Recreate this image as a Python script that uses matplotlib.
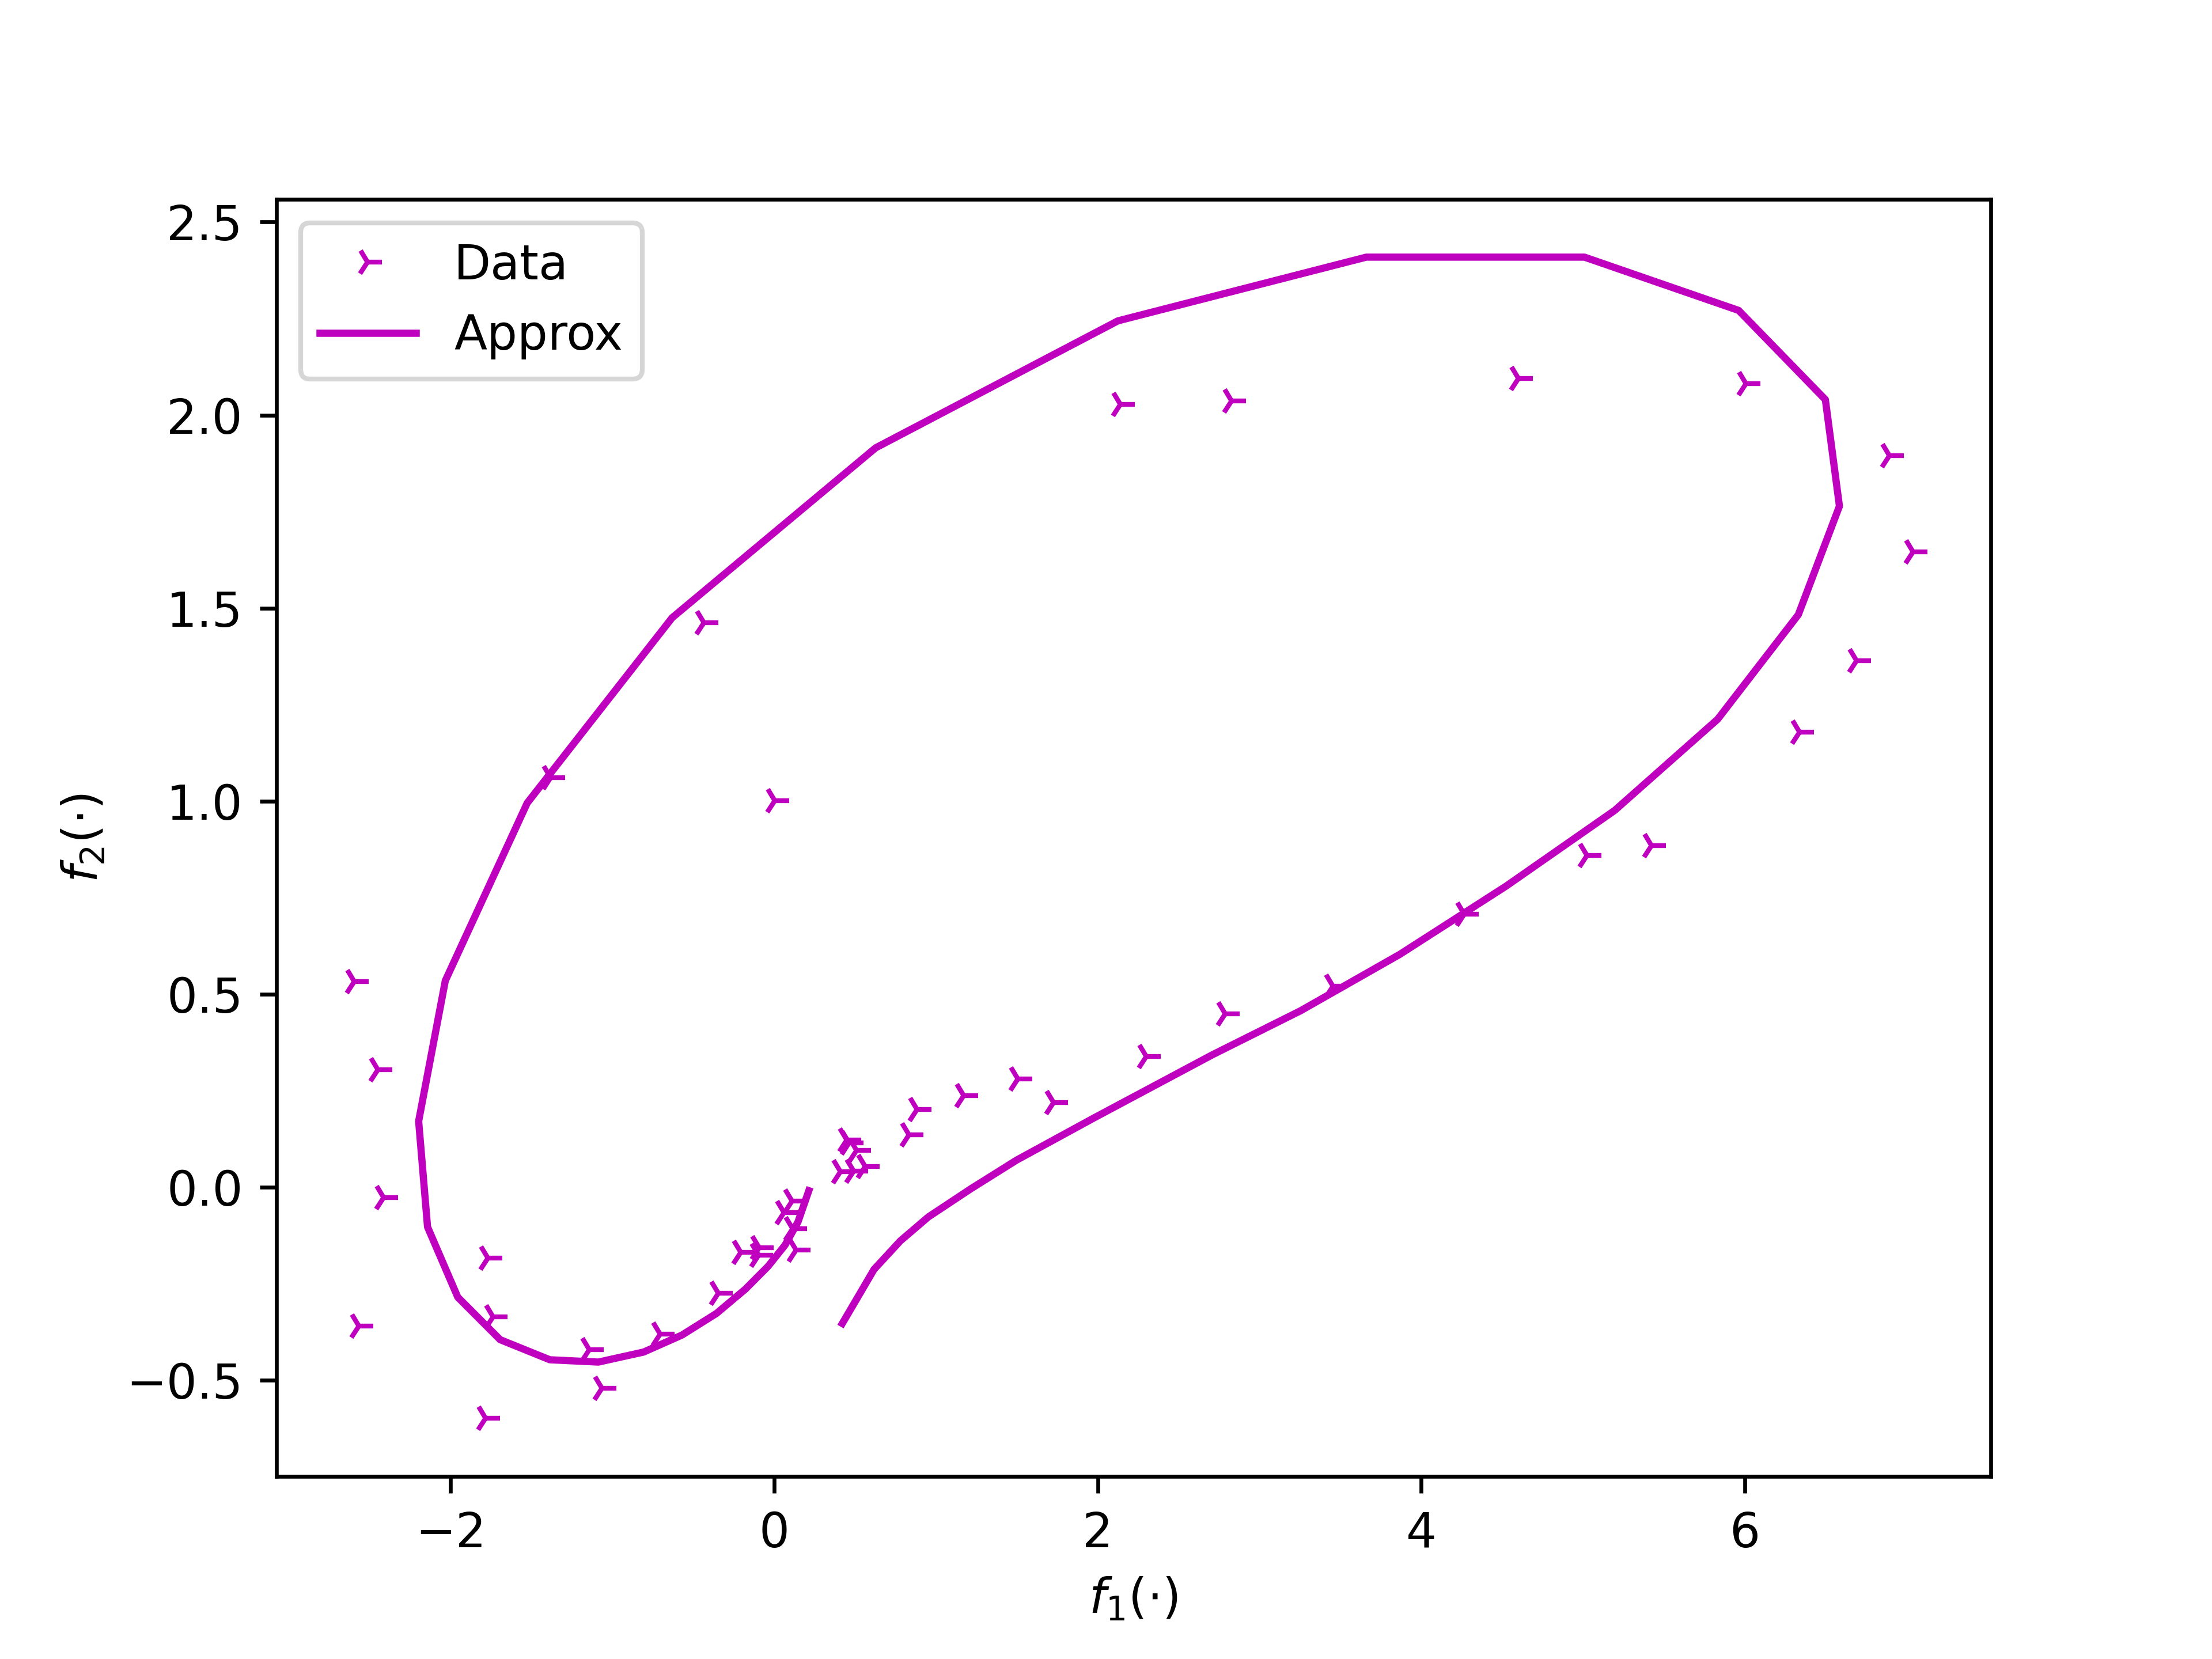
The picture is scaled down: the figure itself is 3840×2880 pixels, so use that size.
import numpy as np
import matplotlib
matplotlib.use('Agg')
import matplotlib.pyplot as plt

# Sampled points (f1, f2)
data_f1 = [-2.595, -2.450, -2.413, -2.568, -1.769, -1.739, -1.783, -1.144, -1.064,
           -0.705, -0.347, -0.207, -0.094, -0.096, 0.061, 0.111, 0.114, 0.136,
           0.408, 0.490, 0.562, 0.508, 0.462, 0.450, 0.834, 0.882, 1.171, 1.507,
           1.728, 2.301, 2.789, 3.454, 4.265, 5.023, 5.423, 6.340, 6.691, 7.039,
           6.893, 6.008, 4.600, 2.829, 2.139, -0.433, -1.381, 0.003]
data_f2 = [0.532, 0.304, -0.027, -0.360, -0.183, -0.336, -0.599, -0.421, -0.521,
           -0.381, -0.275, -0.169, -0.157, -0.176, -0.066, -0.036, -0.107, -0.163,
           0.040, 0.041, 0.053, 0.096, 0.115, 0.122, 0.136, 0.202, 0.237, 0.281,
           0.219, 0.338, 0.449, 0.520, 0.707, 0.860, 0.885, 1.178, 1.363, 1.645,
           1.895, 2.081, 2.095, 2.036, 2.027, 1.462, 1.061, 1.001]

# Approximated trajectory
approx_f1 = [0.214, 0.147, 0.067, -0.038, -0.178, -0.357, -0.570, -0.807, -1.087,
             -1.387, -1.694, -1.956, -2.143, -2.198, -2.033, -1.527, -0.631, 0.627,
             2.125, 3.660, 5.009, 5.962, 6.498, 6.585, 6.331, 5.832, 5.196, 4.525,
             3.867, 3.254, 2.709, 1.975, 1.498, 1.216, 0.953, 0.780, 0.617, 0.508,
             0.421]
approx_f2 = [-0.009, -0.090, -0.150, -0.205, -0.264, -0.327, -0.383, -0.427, -0.453,
             -0.447, -0.395, -0.285, -0.103, 0.171, 0.535, 0.995, 1.475, 1.915,
             2.244, 2.409, 2.409, 2.271, 2.040, 1.764, 1.483, 1.212, 0.976, 0.780,
             0.603, 0.457, 0.343, 0.179, 0.070, -0.004, -0.077, -0.139, -0.213, -0.291,
             -0.353]

fig, ax = plt.subplots(figsize=(6.4, 4.8), dpi=600)
ax.plot(data_f1, data_f2, 'm4', label='Data')
ax.plot(approx_f1, approx_f2, 'm-', label='Approx')
ax.set_xlabel(r'$f_1(\cdot)$')
ax.set_ylabel(r'$f_2(\cdot)$')
ax.legend(loc='upper left')

fig.savefig('out.png', dpi=600)
